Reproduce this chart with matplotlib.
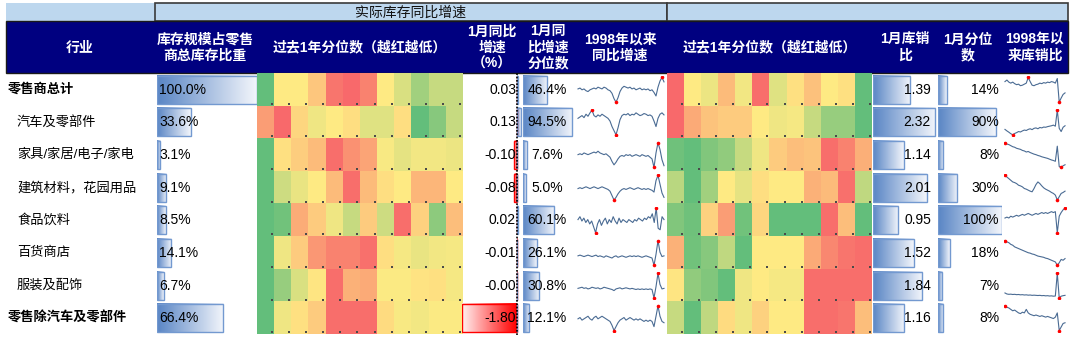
import numpy as np
import matplotlib.pyplot as plt
from matplotlib.colors import LinearSegmentedColormap
from matplotlib.patches import Rectangle

plt.rcParams['font.family'] = ['Liberation Sans', 'Noto Sans CJK SC', 'DejaVu Sans']

industries = ['零售商总计', '汽车及零部件', '家具/家居/电子/家电', '建筑材料，花园用品',
              '食品饮料', '百货商店', '服装及配饰', '零售除汽车及零部件']
share = [100.0, 33.6, 3.1, 9.1, 8.5, 14.1, 6.7, 66.4]
yoy_jan = [0.03, 0.13, -0.10, -0.08, 0.02, -0.01, -0.004, -1.80]
yoy_pct = [46.4, 94.5, 7.6, 5.0, 60.1, 26.1, 30.8, 12.1]
isr_jan = [1.39, 2.32, 1.14, 2.01, 0.95, 1.52, 1.84, 1.16]
isr_pct = [14, 90, 8, 30, 100, 18, 7, 8]

# past-12-month percentiles (0 = lowest / red, 1 = highest / green)
heat_yoy = [
    [1.00, 0.50, 0.50, 0.36, 0.05, 0.00, 0.10, 0.50, 0.62, 0.80, 0.68, 0.68],
    [0.20, 0.00, 0.42, 0.55, 0.50, 0.45, 0.60, 0.60, 0.45, 1.00, 0.88, 0.68],
    [1.00, 0.46, 0.39, 0.32, 0.02, 0.16, 0.23, 0.52, 0.58, 0.54, 0.54, 0.56],
    [1.00, 0.66, 0.57, 0.50, 0.32, 0.02, 0.32, 0.45, 0.50, 0.30, 0.30, 0.50],
    [1.00, 0.95, 0.26, 0.38, 0.55, 0.68, 0.38, 0.66, 0.02, 0.40, 0.86, 0.33],
    [1.00, 0.55, 0.38, 0.18, 0.10, 0.10, 0.03, 0.45, 0.53, 0.57, 0.54, 0.53],
    [1.00, 0.83, 0.62, 0.48, 0.02, 0.28, 0.25, 0.51, 0.51, 0.47, 0.46, 0.53],
    [1.00, 0.55, 0.46, 0.38, 0.02, 0.02, 0.02, 0.44, 0.52, 0.54, 0.51, 0.51],
]
heat_isr = [
    [0.00, 0.50, 0.56, 0.32, 0.54, 0.02, 0.60, 0.46, 0.34, 0.50, 0.46, 1.00],
    [0.00, 0.25, 0.35, 0.38, 0.38, 0.50, 0.55, 0.53, 0.68, 0.83, 0.83, 1.00],
    [0.96, 1.00, 0.90, 0.85, 0.68, 0.55, 0.38, 0.33, 0.35, 0.02, 0.10, 0.27],
    [0.72, 1.00, 0.80, 0.50, 0.58, 0.45, 0.50, 0.50, 0.28, 0.32, 0.03, 0.70],
    [0.90, 0.96, 0.40, 0.20, 0.95, 0.42, 1.00, 1.00, 1.00, 0.02, 0.33, 1.00],
    [0.28, 0.95, 0.88, 0.70, 1.00, 0.50, 0.50, 0.50, 0.25, 0.12, 0.05, 0.02],
    [0.48, 0.85, 0.90, 1.00, 0.55, 0.50, 0.53, 0.53, 0.02, 0.02, 0.02, 0.02],
    [0.68, 1.00, 0.70, 0.44, 0.55, 0.40, 0.50, 0.50, 0.02, 0.02, 0.05, 0.33],
]

# yoy inventory growth since 1998 (sampled)
spark_yoy = [
    [5, 6, 4, 5, 3, 2, 4, 5, 6, 5, 7, 6, 5, 7, 6, 4, 3, 0, -6, -10, -5, 2, 6, 8, 7, 6,
     7, 5, 6, 4, 5, 6, 4, 5, 4, 5, 3, 4, 1, -3, 7, 14, 18, 13],
    [6, 8, 10, 7, 12, 9, 14, 18, 10, 8, 11, 9, 12, 10, 8, 6, 2, -6, -12, -18, -8, 4, 10,
     12, 11, 13, 10, 12, 11, 14, 12, 10, 11, 13, 12, 10, 11, 9, 2, -6, 6, 12, 14, 11],
    [6, 7, 6, 8, 7, 6, 7, 8, 9, 8, 10, 8, 7, 6, 7, 5, 3, -2, -6, -3, 1, 4, 5, 4, 6, 5,
     6, 4, 5, 6, 5, 4, 6, 5, 4, 5, 3, 1, -9, 8, 20, 12, 0, -7],
    [5, 6, 5, 6, 7, 6, 5, 6, 7, 6, 5, 6, 7, 6, 5, 4, 2, -3, -8, -5, -1, 2, 4, 5, 4, 5,
     6, 5, 4, 5, 6, 5, 4, 5, 4, 5, 4, 3, 1, 14, 20, 10, 0, -5],
    [6, 8, 5, 7, 4, 6, 3, 5, 1, -3, 3, 6, 2, 5, 7, 3, 6, 4, 8, 5, 3, 7, 4, 6, 5, 4, 6,
     5, 4, 6, 5, 7, 6, 5, 7, 6, 8, 7, 10, 4, 14, 0, -1, 8, 6],
    [3, 4, 3, 2, 3, 4, 3, 2, 3, 4, 2, 3, 2, 1, 3, 2, 1, 0, 2, 3, 1, 2, 3, 2, 1, 2, 3, 2,
     3, 2, 3, 2, 1, 2, 3, 2, 1, 0, -10, 5, 24, 8, 2, 3],
    [3, 4, 5, 3, 4, 2, 3, 5, 4, 3, 4, 2, 3, 5, 4, 3, 2, 1, -1, 2, 3, 4, 2, 3, 4, 3, 2, 3,
     2, 1, 2, 1, 2, 1, 2, 1, 2, 1, -14, 6, 30, 10, 2, 3],
    [4, 5, 3, 4, 5, 6, 4, 3, 5, 6, 4, 5, 6, 5, 4, 3, 2, -1, -5, -2, 1, 3, 4, 5, 3, 4, 5,
     4, 3, 4, 3, 4, 3, 2, 3, 2, 3, 2, -2, 6, 14, 6, 2, 1],
]

# inventory / sales ratio since 1998 (sampled)
spark_isr = [
    [1.50, 1.53, 1.49, 1.47, 1.49, 1.46, 1.44, 1.45, 1.42, 1.43, 1.45, 1.47, 1.58, 1.50, 1.43, 1.42,
     1.44, 1.45, 1.47, 1.46, 1.48, 1.47, 1.49, 1.48, 1.50, 1.49, 1.47, 1.56, 1.10, 1.18, 1.25, 1.28],
    [2.05, 1.98, 1.92, 1.85, 1.80, 1.86, 1.90, 1.95, 1.93, 1.98, 2.02, 2.00, 2.05, 2.08, 2.04, 2.10,
     2.12, 2.08, 2.14, 2.12, 2.16, 2.15, 2.18, 2.20, 2.22, 2.25, 2.20, 2.95, 2.10, 1.95, 2.15, 2.22],
    [1.95, 1.90, 1.88, 1.84, 1.80, 1.78, 1.74, 1.72, 1.70, 1.66, 1.64, 1.60, 1.62, 1.58, 1.55, 1.52,
     1.50, 1.47, 1.45, 1.42, 1.40, 1.38, 1.36, 1.33, 1.30, 1.28, 1.25, 1.82, 1.05, 1.02, 1.08, 1.12],
    [2.60, 2.55, 2.50, 2.45, 2.40, 2.38, 2.35, 2.30, 2.28, 2.25, 2.20, 2.18, 2.15, 2.12, 2.10, 2.20,
     2.32, 2.40, 2.35, 2.28, 2.22, 2.18, 2.15, 2.12, 2.08, 2.05, 2.00, 1.85, 1.95, 2.05, 2.08, 2.12],
    [0.86, 0.87, 0.86, 0.88, 0.87, 0.88, 0.89, 0.88, 0.89, 0.90, 0.89, 0.90, 0.91, 0.90, 0.89, 0.90,
     0.91, 0.90, 0.91, 0.92, 0.91, 0.92, 0.91, 0.92, 0.93, 0.92, 0.93, 0.70, 0.88, 0.92, 0.95, 0.97],
    [1.95, 1.92, 1.90, 1.86, 1.84, 1.80, 1.78, 1.76, 1.74, 1.72, 1.70, 1.68, 1.66, 1.65, 1.63, 1.62,
     1.60, 1.58, 1.57, 1.56, 1.55, 1.53, 1.52, 1.50, 1.48, 1.46, 1.44, 1.36, 1.42, 1.50, 1.48, 1.52],
    [1.74, 1.68, 1.66, 1.67, 1.65, 1.66, 1.64, 1.65, 1.63, 1.64, 1.62, 1.63, 1.61, 1.62, 1.60, 1.61,
     1.60, 1.59, 1.60, 1.58, 1.59, 1.57, 1.58, 1.56, 1.57, 1.55, 1.56, 2.90, 1.45, 1.55, 1.58, 1.60],
    [1.40, 1.38, 1.37, 1.35, 1.33, 1.34, 1.32, 1.30, 1.29, 1.31, 1.30, 1.35, 1.30, 1.28, 1.27, 1.26,
     1.27, 1.26, 1.25, 1.26, 1.25, 1.24, 1.25, 1.24, 1.23, 1.22, 1.24, 1.30, 1.05, 1.10, 1.15, 1.16],
]

W, H = 1080, 340
fig = plt.figure(figsize=(W / 100, H / 100), dpi=100)


def box(x0, y0, x1, y1):
    # axes placed by pixel box (top-left origin)
    return fig.add_axes([x0 / W, 1 - y1 / H, (x1 - x0) / W, (y1 - y0) / H])


n = len(industries)
TOP, BOT = 73.5, 334.5
pitch = (BOT - TOP) / n
row_y = [TOP + (i + 0.5) * pitch for i in range(n)]

bg = box(0, 0, W, H)
bg.set_xlim(0, W)
bg.set_ylim(H, 0)
bg.axis('off')

# header rows
bg.add_patch(Rectangle((6, 3), 149, 18, fc='#BDD7EE', ec='none'))
bg.add_patch(Rectangle((155, 3), 512, 18, fc='#BDD7EE', ec='#3a3a3a', lw=1.2))
bg.add_patch(Rectangle((667, 3), 401, 18, fc='#BDD7EE', ec='#3a3a3a', lw=1.2))
bg.text(411, 12.5, '实际库存同比增速', ha='center', va='center', fontsize=10, color='#111111')
bg.add_patch(Rectangle((6, 21), 1062, 52, fc='#000080', ec='#1a1a1a', lw=1))
headers = [(80, '行业'), (205, '库存规模占零售\n商总库存比重'), (360, '过去1年分位数（越红越低）'),
           (492, '1月同比\n增速\n（%）'), (548, '1月同\n比增速\n分位数'), (620, '1998年以来\n同比增速'),
           (770, '过去1年分位数（越红越低）'), (905, '1月库销\n比'), (968, '1月分位\n数'),
           (1035, '1998年以\n来库销比')]
for x, t in headers:
    bg.text(x, 47.5, t, ha='center', va='center', color='white', fontsize=10,
            fontweight='bold', linespacing=1.2)

# heatmaps
ryg = LinearSegmentedColormap.from_list('ryg', ['#F8696B', '#FFEB84', '#63BE7B'])
for data, x0 in [(heat_yoy, 257), (heat_isr, 667)]:
    ax = box(x0, TOP, x0 + 205, BOT)
    arr = np.array(data)
    ax.imshow(arr, cmap=ryg, vmin=0, vmax=1, aspect='auto', interpolation='nearest')
    rr, cc = np.indices(arr.shape)
    ax.scatter(cc.ravel() + 0.38, rr.ravel() + 0.43, s=1.1, marker='s', c='#4a4a4a', lw=0)
    ax.set_xlim(-0.5, arr.shape[1] - 0.5)
    ax.set_ylim(n - 0.5, -0.5)
    ax.axis('off')


def grad_bars(ax, values, c_base, c_tip, edge):
    bars = ax.barh(np.arange(n), values, height=0.86, fc='none', ec=edge, lw=1, zorder=3)
    cm = LinearSegmentedColormap.from_list('g', [c_base, c_tip])
    grad = np.linspace(0, 1, 64).reshape(1, -1)
    for b in bars:
        x0, w = b.get_x(), b.get_width()
        y0, h = b.get_y(), b.get_height()
        if w == 0:
            continue
        ax.imshow(grad, cmap=cm, extent=(x0, x0 + w, y0 + h, y0), aspect='auto',
                  interpolation='bilinear', zorder=2)
    return bars


blue, blue_tip, blue_edge = '#5A86C5', '#F2F5FB', '#7399D0'
red, red_tip = '#FF0000', '#FFF0F0'

ax = box(157, TOP, 257, BOT)
grad_bars(ax, share, blue, blue_tip, blue_edge)
ax.set_xlim(0, 100)
ax.set_ylim(n - 0.5, -0.5)
ax.axis('off')

ax = box(462, TOP, 523, BOT)
neg = [min(v, 0) for v in yoy_jan]
pos = [max(v, 0) for v in yoy_jan]
grad_bars(ax, neg, red, red_tip, red)
grad_bars(ax, pos, blue, blue_tip, blue_edge)
ax.axvline(0, color='black', lw=1.2, ls=(0, (1, 1)), zorder=4)
ax.set_xlim(-1.8, 0.2)
ax.set_ylim(n - 0.5, -0.5)
ax.axis('off')

ax = box(523, TOP, 575, BOT)
grad_bars(ax, yoy_pct, blue, blue_tip, blue_edge)
ax.set_xlim(0, 100)
ax.set_ylim(n - 0.5, -0.5)
ax.axis('off')

ax = box(873, TOP, 937, BOT)
grad_bars(ax, isr_jan, blue, blue_tip, blue_edge)
ax.set_xlim(0, 64 / 26.8)
ax.set_ylim(n - 0.5, -0.5)
ax.axis('off')

ax = box(938, TOP, 1002, BOT)
grad_bars(ax, isr_pct, blue, blue_tip, blue_edge)
ax.set_xlim(0, 100)
ax.set_ylim(n - 0.5, -0.5)
ax.axis('off')

# sparklines
for series, (x0, x1) in [(spark_yoy, (577, 665)), (spark_isr, (1004, 1066))]:
    for i, s in enumerate(series):
        top = TOP + i * pitch
        ax = box(x0, top + 2.5, x1, top + pitch - 2.5)
        s = np.array(s, dtype=float)
        t = np.arange(len(s))
        ax.plot(t, s, color='#4A6B93', lw=0.8)
        for k in (s.argmin(), s.argmax()):
            ax.plot(t[k], s[k], 'o', ms=2.6, color='#FF0000', mew=0)
        ax.set_xlim(-0.5, len(s) - 0.5)
        ax.margins(y=0.06)
        ax.axis('off')

# text layer
fg = box(0, 0, W, H)
fg.set_xlim(0, W)
fg.set_ylim(H, 0)
fg.axis('off')
for i, name in enumerate(industries):
    y = row_y[i]
    bold = i in (0, n - 1)
    fg.text(8 if bold else 17, y, name, ha='left', va='center', fontsize=9.5,
            fontweight='bold' if bold else 'normal', color='black')
    fg.text(159, y, f'{share[i]:.1f}%', ha='left', va='center', fontsize=10)
    fg.text(516, y, f'{yoy_jan[i]:.2f}', ha='right', va='center', fontsize=10)
    fg.text(547, y, f'{yoy_pct[i]:.1f}%', ha='center', va='center', fontsize=10)
    fg.text(931, y, f'{isr_jan[i]:.2f}', ha='right', va='center', fontsize=10)
    fg.text(999, y, f'{isr_pct[i]:.0f}%', ha='right', va='center', fontsize=10)

fig.savefig('out.png', dpi=100)
